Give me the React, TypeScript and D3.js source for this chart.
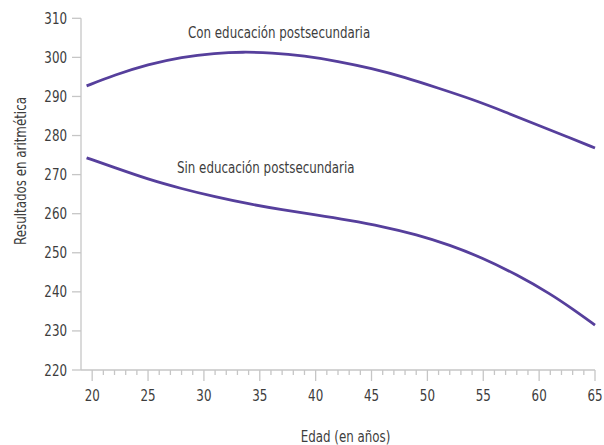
import React from "react";
import * as d3 from "d3";

const ages = [19.5, 22, 25, 28, 31, 33.5, 36, 39, 42, 45, 48, 51, 54, 57, 60, 62.5, 65];
const conValues = [292.7, 295.5, 298.2, 300.1, 301.1, 301.4, 301.2, 300.4, 299.0, 297.2, 294.9, 292.1, 289.3, 286.0, 282.5, 279.7, 276.8];
const sinAges = [19.5, 22, 25, 28, 31, 34, 37, 40, 43, 46, 49, 52, 55, 58, 61, 63, 65];
const sinValues = [274.3, 271.8, 268.8, 266.4, 264.3, 262.5, 261.0, 259.7, 258.3, 256.7, 254.7, 252.0, 248.6, 244.4, 239.5, 235.6, 231.5];
const yTicks = [220, 230, 240, 250, 260, 270, 280, 290, 300, 310];
const xTicks = [20, 25, 30, 35, 40, 45, 50, 55, 60, 65];
const xMinor = d3.range(20, 66, 1);
const seriesLabels = ["Con educación postsecundaria", "Sin educación postsecundaria"];
const xTitle = "Edad (en años)";
const yTitle = "Resultados en aritmética";

const W = 604;
const H = 445;
const FONT = "'Liberation Sans Narrow', 'DejaVu Sans Condensed', 'Roboto', sans-serif";
const TEXT = "#3d3d3d";
const AXIS = "#c6c6c6";
const LINE = "#563f9c";
const SX = 0.88;

function T({ x, y, anchor = "start", rot = 0, children }: { x: number; y: number; anchor?: string; rot?: number; children: React.ReactNode }) {
  return (
    <text
      transform={`translate(${x},${y}) rotate(${rot}) scale(${SX},1)`}
      textAnchor={anchor}
      fontSize={15}
      fill={TEXT}
    >
      {children}
    </text>
  );
}

export default function App() {
  const x = d3.scaleLinear().domain([19, 65]).range([81, 595]);
  const y = d3.scaleLinear().domain([220, 310]).range([370, 18.3]);
  const line = d3
    .line<[number, number]>()
    .x((d) => x(d[0]))
    .y((d) => y(d[1]))
    .curve(d3.curveBasis);
  const conPath = line(ages.map((a, i) => [a, conValues[i]]) as [number, number][]) || "";
  const sinPath = line(sinAges.map((a, i) => [a, sinValues[i]]) as [number, number][]) || "";

  return (
    <svg
      width={W}
      height={H}
      style={{ position: "absolute", left: 0, top: 0, background: "#fff" }}
      fontFamily={FONT}
      fontStretch="condensed"
    >
      {/* y axis */}
      <line x1={x(19)} x2={x(19)} y1={y(310)} y2={y(220)} stroke={AXIS} strokeWidth={1.3} />
      {yTicks.map((t) => (
        <g key={"y" + t}>
          <line x1={72} x2={x(19)} y1={y(t)} y2={y(t)} stroke={AXIS} strokeWidth={1.3} />
          <T x={67} y={y(t) + 5.5} anchor="end">
            {t}
          </T>
        </g>
      ))}
      {/* x axis */}
      <line x1={x(19)} x2={x(65)} y1={y(220)} y2={y(220)} stroke={AXIS} strokeWidth={1.3} />
      {xMinor.map((m) => (
        <line
          key={"m" + m}
          x1={x(m)}
          x2={x(m)}
          y1={y(220)}
          y2={y(220) + (m % 5 === 0 ? 11 : 5)}
          stroke={AXIS}
          strokeWidth={1.3}
        />
      ))}
      {xTicks.map((t) => (
        <T key={"x" + t} x={x(t)} y={400.5} anchor="middle">
          {t}
        </T>
      ))}
      {/* lines */}
      <path d={conPath} fill="none" stroke={LINE} strokeWidth={2.8} />
      <path d={sinPath} fill="none" stroke={LINE} strokeWidth={2.8} />
      {/* labels */}
      <T x={188} y={38}>{seriesLabels[0]}</T>
      <T x={177} y={173}>{seriesLabels[1]}</T>
      <T x={345.5} y={442} anchor="middle">{xTitle}</T>
      <T x={26} y={171} anchor="middle" rot={-90}>{yTitle}</T>
    </svg>
  );
}
